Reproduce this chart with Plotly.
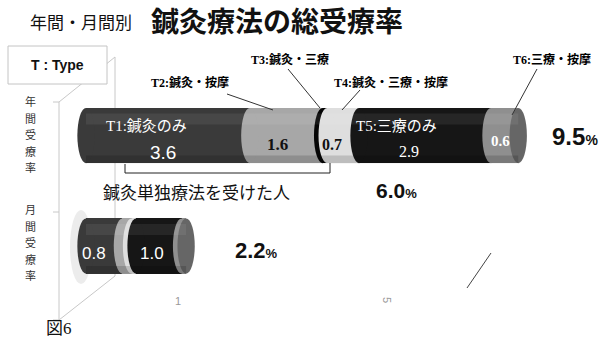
import plotly.graph_objects as go

# ---------------- data ----------------
types = ["T1", "T2", "T3", "T4", "T5", "T6"]
type_names = ["鍼灸のみ", "鍼灸・按摩", "鍼灸・三療", "鍼灸・三療・按摩", "三療のみ", "三療・按摩"]
annual = [3.6, 1.6, 0.1, 0.7, 2.9, 0.6]
monthly = [0.8, 0.2, 0.0, 0.1, 1.0, 0.1]
row_labels = ["年間受療率", "月間受療率"]
floor_ticks = ["1", "5"]
acup_group_label = "鍼灸単独療法を受けた人"
title_small = "年間・月間別"
title_big = "鍼灸療法の総受療率"
legend_key = "T : Type"
fig_label = "図6"

# ---------------- styling ----------------
W, H = 605, 346
colors = ["#3a3a3a", "#a7a7a7", "#060606", "#dedede", "#161616", "#8f8f8f"]
end_face = "#666666"
SERIF = "Liberation Serif, Noto Sans CJK JP, serif"
SANS = "Liberation Sans, Arial, sans-serif"
GOTHIC = "Noto Sans CJK JP, sans-serif"

X0_PX, KX = 86.0, 45.5          # pixel of value 0, px per unit
Y1_PX, Y0_PX = 135.5, 246.0     # pixel rows of the annual / monthly bars
KY = Y0_PX - Y1_PX
xr = [-X0_PX / KX, (W - X0_PX) / KX]
yr = [(Y0_PX - H) / KY, Y0_PX / KY]
BW = 0.5
EW = 0.19

def px(x):
    return x / W

def py(y):
    return 1 - y / H

fig = go.Figure()
for i, t in enumerate(types):
    fig.add_bar(y=[1, 0], x=[annual[i], monthly[i]], orientation="h", width=BW,
                marker=dict(color=colors[i], line_width=0),
                hoverinfo="skip", showlegend=False, name=t)

shapes = []
LG = "#c8c8c8"
# 3D back wall lines (decorative)
for (x0, y0, x1, y1) in [(59, 102, 59, 320), (59, 102, 115, 57), (115, 57, 115, 276),
                         (59, 320, 115, 276), (53, 102, 59, 102), (53, 212, 59, 212),
                         (53, 320, 59, 320)]:
    shapes.append(dict(type="line", xref="paper", yref="paper", x0=px(x0), y0=py(y0),
                       x1=px(x1), y1=py(y1), line=dict(color=LG, width=1), layer="below"))
# glow at left of monthly bar
shapes.append(dict(type="circle", xref="paper", yref="paper", x0=px(70), x1=px(92),
                   y0=py(284), y1=py(210), fillcolor="#c8c8c8", opacity=0.35,
                   line_width=0, layer="below"))

# cylinder ellipses computed from data
for row, vals in [(1, annual), (0, monthly)]:
    cum = 0.0
    for i, v in enumerate(vals):
        if v > 0:
            shapes.append(dict(type="circle", xref="x", yref="y", x0=cum - EW, x1=cum + EW,
                               y0=row - BW / 2, y1=row + BW / 2, fillcolor=colors[i],
                               line_width=0))
        cum += v
    shapes.append(dict(type="circle", xref="x", yref="y", x0=cum - EW, x1=cum + EW,
                       y0=row - BW / 2, y1=row + BW / 2, fillcolor=end_face, line_width=0))
    # soft highlight / shadow bands
    shapes.append(dict(type="rect", xref="x", yref="y", x0=0, x1=cum,
                       y0=row + 0.10, y1=row + 0.20, fillcolor="white", opacity=0.07,
                       line_width=0))
    shapes.append(dict(type="rect", xref="x", yref="y", x0=0, x1=cum,
                       y0=row - BW / 2, y1=row - 0.18, fillcolor="black", opacity=0.15,
                       line_width=0))

# bracket
for (x0, y0, x1, y1) in [(125, 164, 125, 173), (125, 173, 330, 173), (330, 173, 330, 163)]:
    shapes.append(dict(type="line", xref="paper", yref="paper", x0=px(x0), y0=py(y0),
                       x1=px(x1), y1=py(y1), line=dict(color="#222", width=1)))
# leader lines
for (x0, y0, x1, y1) in [(227, 94, 273, 110), (288, 69, 320, 108), (360, 90, 342, 110),
                         (537, 69, 512, 115)]:
    shapes.append(dict(type="line", xref="paper", yref="paper", x0=px(x0), y0=py(y0),
                       x1=px(x1), y1=py(y1), line=dict(color="#333", width=1)))
# floor diagonal
shapes.append(dict(type="line", xref="paper", yref="paper", x0=px(467), y0=py(288),
                   x1=px(491), y1=py(253), line=dict(color="#444", width=1)))
# legend key box
shapes.append(dict(type="rect", xref="paper", yref="paper", x0=px(8), x1=px(107),
                   y0=py(84), y1=py(46), line=dict(color="#c4c4c4", width=1),
                   fillcolor="white"))

ann = []

def A(text, x, y, size, family, color="black", xanchor="center", angle=0):
    ann.append(dict(text=text, x=px(x), y=py(y), xref="paper", yref="paper",
                    showarrow=False, xanchor=xanchor, yanchor="middle", textangle=angle,
                    font=dict(size=size, family=family, color=color)))

def pct(v, small):
    return (f"<b>{v:.1f}</b><span style='font-size:{small}px'><b>%</b></span>")

A(title_small, 28, 21, 17, GOTHIC, "#111", "left")
A(f"<b>{title_big}</b>", 149, 20, 28, GOTHIC, "#111", "left")
A(f"<b>{legend_key}</b>", 57, 65, 14, SANS, "#111")
# vertical row labels, one character per line
for label, top in [(row_labels[0], 101), (row_labels[1], 209)]:
    for k, ch in enumerate(label):
        A(ch, 30, top + k * 16.5, 11, GOTHIC, "#333")

# in-bar labels
A(f"{types[0]}:{type_names[0]}", 146, 126, 15, SERIF, "white")
A(f"{annual[0]:.1f}", 163, 152, 19, SANS, "white")
A(f"<b>{annual[1]:.1f}</b>", 277, 144, 17, SERIF, "#111")
A(f"<b>{annual[3]:.1f}</b>", 332, 145, 16, SERIF, "#111")
A(f"{types[4]}:{type_names[4]}", 397, 126, 15, SERIF, "white")
A(f"{annual[4]:.1f}", 409, 151, 16, SERIF, "white")
A(f"<b>{annual[5]:.1f}</b>", 500, 141, 15, SERIF, "white")
A(f"{monthly[0]:.1f}", 94, 253, 17, SANS, "white")
A(f"{monthly[4]:.1f}", 152, 253, 17, SANS, "white")

# callouts
A(f"<b>{types[1]}:{type_names[1]}</b>", 190, 83, 12, SERIF)
A(f"<b>{types[2]}:{type_names[2]}</b>", 290, 59, 12, SERIF)
A(f"<b>{types[3]}:{type_names[3]}</b>", 391, 83, 12, SERIF)
A(f"<b>{types[5]}:{type_names[5]}</b>", 552, 59, 12, SERIF)

# totals
A(pct(sum(annual), 14), 575, 136, 24, SANS, "#111")
A(pct(sum(annual[:4]), 13), 396, 190, 21, SANS, "#111")
A(pct(sum(monthly), 13), 256, 250, 22, SANS, "#111")
A(acup_group_label, 196, 191, 17, GOTHIC, "#111")

# faint floor ticks
A(floor_ticks[0], 178, 301, 11, SANS, "#999999")
A(floor_ticks[1], 387, 300, 11, SANS, "#999999", angle=90)

A(fig_label, 59, 328, 17, SERIF, "#111")

fig.update_layout(
    width=W, height=H, margin=dict(l=0, r=0, t=0, b=0),
    paper_bgcolor="white", plot_bgcolor="white", barmode="stack", bargap=0,
    xaxis=dict(range=xr, visible=False, fixedrange=True),
    yaxis=dict(range=yr, visible=False, fixedrange=True),
    shapes=shapes, annotations=ann, showlegend=False,
)
fig.write_html("out.html", config={"displayModeBar": False})
